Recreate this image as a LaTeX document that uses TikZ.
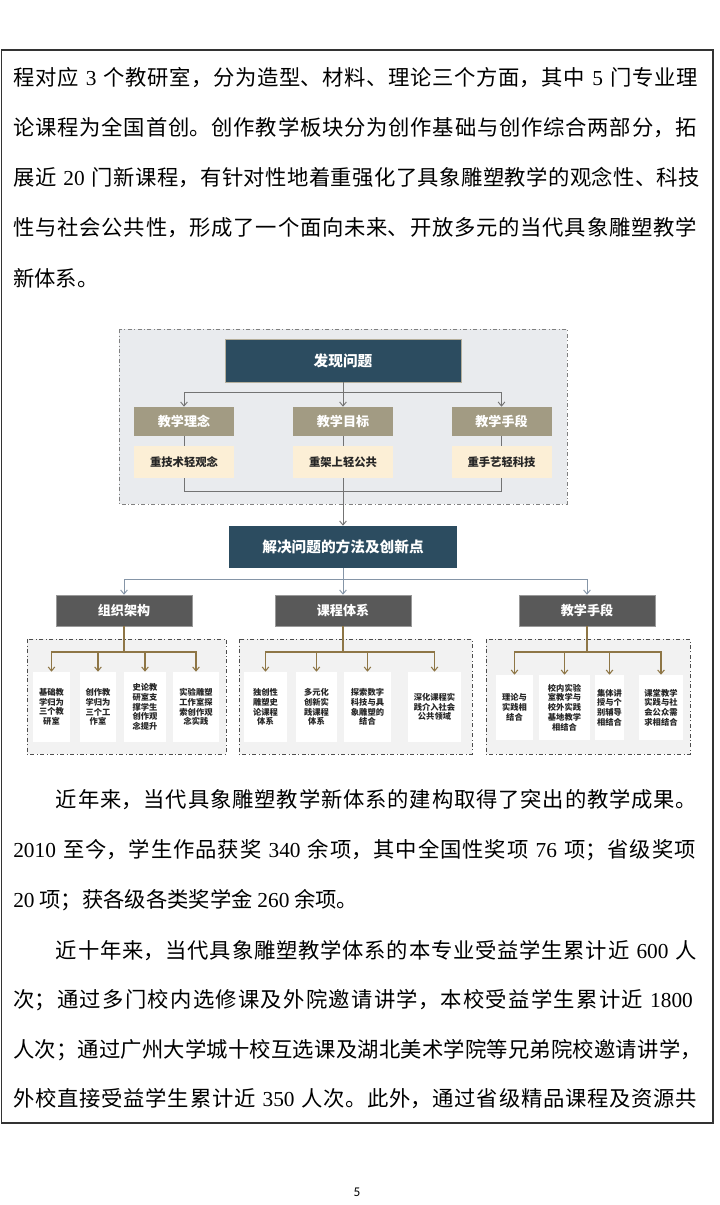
\documentclass[tikz,border=0pt]{standalone}
\usepackage{fontspec}
\setmainfont{Noto Sans CJK SC}
\newfontfamily\numfont{Liberation Serif}
\newfontfamily\pagefont{Carlito}
\usetikzlibrary{arrows.meta}
\XeTeXlinebreaklocale "zh"
\XeTeXlinebreakskip=0pt plus 4pt
\definecolor{deepblue}{HTML}{2C4C60}
\definecolor{tanbox}{HTML}{A29B83}
\definecolor{cream}{HTML}{FCEFD6}
\definecolor{slate}{HTML}{595959}
\definecolor{panelbg}{HTML}{E9EBEE}
\definecolor{lightbg}{HTML}{F2F2F2}
\definecolor{gold}{HTML}{8E7646}
\definecolor{bluegray}{HTML}{8595A7}
\newcommand\nm[1]{{\numfont #1}}
\newcommand\fullline[1]{{\parfillskip=0pt #1\par}}
\begin{document}
\begin{tikzpicture}[x=0.75pt,y=-0.75pt,>={Straight Barb[length=3pt,width=5pt]},
  bodyline/.style={anchor=west,inner sep=0pt,text width=517.5pt,font=\fontsize{16}{19}\selectfont},
  lastline/.style={anchor=west,inner sep=0pt,font=\fontsize{16}{19}\selectfont},
  panel/.style={fill=panelbg,draw=black!50,dash dot,line width=0.6pt},
  subpanel/.style={fill=lightbg,draw=black!70,dash dot,line width=0.6pt},
  headbox/.style={fill=deepblue,text=white,inner sep=0pt,font=\fontsize{11}{13}\selectfont\bfseries},
  tanhead/.style={fill=tanbox,text=white,inner sep=0pt,minimum width=75pt,minimum height=21.75pt,
    font=\fontsize{9.8}{12}\selectfont\bfseries},
  creambox/.style={fill=cream,text=black!85,inner sep=0pt,minimum width=75pt,minimum height=24pt,
    font=\fontsize{8.5}{10}\selectfont\bfseries},
  darkbox/.style={fill=slate,draw=black!40,line width=0.4pt,text=white,inner sep=0pt,minimum width=102pt,
    minimum height=23.25pt,font=\fontsize{9.8}{12}\selectfont\bfseries},
  leafbox/.style={fill=white,text=black!85,inner sep=0pt,align=center,minimum height=52.5pt,
    font=\fontsize{6.2}{7.3}\selectfont\bfseries},
  grayline/.style={draw=black!55,line width=0.7pt},
  blueline/.style={draw=bluegray,line width=0.7pt},
  goldline/.style={draw=gold,line width=0.8pt}]
  \fill[white] (0,0) rectangle (720,1205);
  \useasboundingbox (0,0) rectangle (720,1205);
  \draw[line width=1.1pt,black!80] (1.5,50) rectangle (713,1123);
  % text above the chart
  \node[bodyline] (p1) at (13,78) {\fullline{程对应 \nm{3} 个教研室，分为造型、材料、理论三个方面，其中 \nm{5} 门专业理}};
  \node[bodyline] (p2) at (13,128) {\fullline{论课程为全国首创。创作教学板块分为创作基础与创作综合两部分，拓}};
  \node[bodyline] (p3) at (13,178) {\fullline{展近 \nm{20} 门新课程，有针对性地着重强化了具象雕塑教学的观念性、科技}};
  \node[bodyline] (p4) at (13,228) {\fullline{性与社会公共性，形成了一个面向未来、开放多元的当代具象雕塑教学}};
  \node[lastline] (p5) at (13,278) {新体系。};
  % problems
  \draw[panel] (119,329) rectangle (567,504);
  \node[headbox,draw=tanbox!80,line width=0.6pt,minimum width=177pt,minimum height=32.25pt] (find) at (343,360.5) {发现问题};
  \node[tanhead] (idea) at (184,421.5) {教学理念};
  \node[tanhead] (goal) at (343,421.5) {教学目标};
  \node[tanhead] (mean) at (501.5,421.5) {教学手段};
  \node[creambox] (idea2) at (184,462) {重技术轻观念};
  \node[creambox] (goal2) at (343,462) {重架上轻公共};
  \node[creambox] (mean2) at (501.5,462) {重手艺轻科技};
  \coordinate (top) at (343,392);
  \coordinate (low) at (343,491);
  \draw[grayline] (find.south) -- (top);
  \foreach \n in {idea,goal,mean} {
    \draw[grayline,->] (top) -| (\n.north);
    \draw[grayline] (\n.south) -- (\n2.north);
    \draw[grayline] (\n2.south) |- (low);
  }
  % solutions
  \node[headbox,minimum width=171pt,minimum height=31.5pt] (solve) at (343,547) {解决问题的方法及创新点};
  \draw[grayline,->] (low) -- (solve.north);
  \node[darkbox] (org) at (124,610.5) {组织架构};
  \node[darkbox] (cour) at (343,610.5) {课程体系};
  \node[darkbox] (tech) at (587,610.5) {教学手段};
  \coordinate (mid) at (343,579);
  \draw[blueline] (solve.south) -- (mid);
  \foreach \n in {org,cour,tech}
    \draw[blueline,->] (mid) -| (\n.north);
  \draw[subpanel] (27,639) rectangle (226,754);
  \draw[subpanel] (239,639) rectangle (472,754);
  \draw[subpanel] (486,639) rectangle (690,754);
  \node[leafbox,minimum width=27.75pt] (a1) at (51.5,707) {基础教\\学归为\\三个教\\研室};
  \node[leafbox,minimum width=27pt] (a2) at (98,707) {创作教\\学归为\\三个工\\作室};
  \node[leafbox,minimum width=31.5pt] (a3) at (145,707) {史论教\\研室支\\撑学生\\创作观\\念提升};
  \node[leafbox,minimum width=34.5pt] (a4) at (196,707) {实验雕塑\\工作室探\\索创作观\\念实践};
  \node[leafbox,minimum width=32.25pt] (b1) at (265.5,707) {独创性\\雕塑史\\论课程\\体系};
  \node[leafbox,minimum width=30.75pt] (b2) at (316.5,707) {多元化\\创新实\\践课程\\体系};
  \node[leafbox,minimum width=35.25pt] (b3) at (367.5,707) {探索数字\\科技与具\\象雕塑的\\结合};
  \node[leafbox,minimum width=39.75pt] (b4) at (434.5,707) {深化课程实\\践介入社会\\公共领域};
  \node[leafbox,minimum width=27.75pt,minimum height=48.75pt] (d1) at (514.5,707.5) {理论与\\实践相\\结合};
  \node[leafbox,minimum width=38.25pt,minimum height=48.75pt] (d2) at (564.5,707.5) {校内实验\\室教学与\\校外实践\\基地教学\\相结合};
  \node[leafbox,minimum width=21.75pt,minimum height=48.75pt] (d3) at (609.5,707.5) {集体讲\\授与个\\别辅导\\相结合};
  \node[leafbox,minimum width=33pt,minimum height=48.75pt] (d4) at (661,707.5) {课堂教学\\实践与社\\会公众需\\求相结合};
  \coordinate (orgj) at (124,652);
  \coordinate (courj) at (343,652);
  \coordinate (techj) at (587,652);
  \draw[goldline] (org.south) -- (orgj);
  \draw[goldline] (cour.south) -- (courj);
  \draw[goldline] (tech.south) -- (techj);
  \foreach \n in {a1,a2,a3,a4} \draw[goldline,->] (orgj) -| (\n.north);
  \foreach \n in {b1,b2,b3,b4} \draw[goldline,->] (courj) -| (\n.north);
  \foreach \n in {d1,d2,d3,d4} \draw[goldline,->] (techj) -| (\n.north);
  % text below the chart
  \node[bodyline] (q1) at (13,800) {\fullline{\hspace*{2em}近年来，当代具象雕塑教学新体系的建构取得了突出的教学成果。}};
  \node[bodyline] (q2) at (13,850) {\fullline{\nm{2010} 至今，学生作品获奖 \nm{340} 余项，其中全国性奖项 \nm{76} 项；省级奖项}};
  \node[lastline] (q3) at (13,900) {\nm{20} 项；获各级各类奖学金 \nm{260} 余项。};
  \node[bodyline] (q4) at (13,951) {\fullline{\hspace*{2em}近十年来，当代具象雕塑教学体系的本专业受益学生累计近 \nm{600} 人}};
  \node[bodyline] (q5) at (13,1000) {\fullline{次；通过多门校内选修课及外院邀请讲学，本校受益学生累计近 \nm{1800}}};
  \node[bodyline] (q6) at (13,1050) {\fullline{人次；通过广州大学城十校互选课及湖北美术学院等兄弟院校邀请讲学，}};
  \node[bodyline] (q7) at (13,1099) {\fullline{外校直接受益学生累计近 \nm{350} 人次。此外，通过省级精品课程及资源共}};
  \node[font=\pagefont\fontsize{10}{12}\selectfont] (pg) at (357,1192) {5};
\end{tikzpicture}
\end{document}
